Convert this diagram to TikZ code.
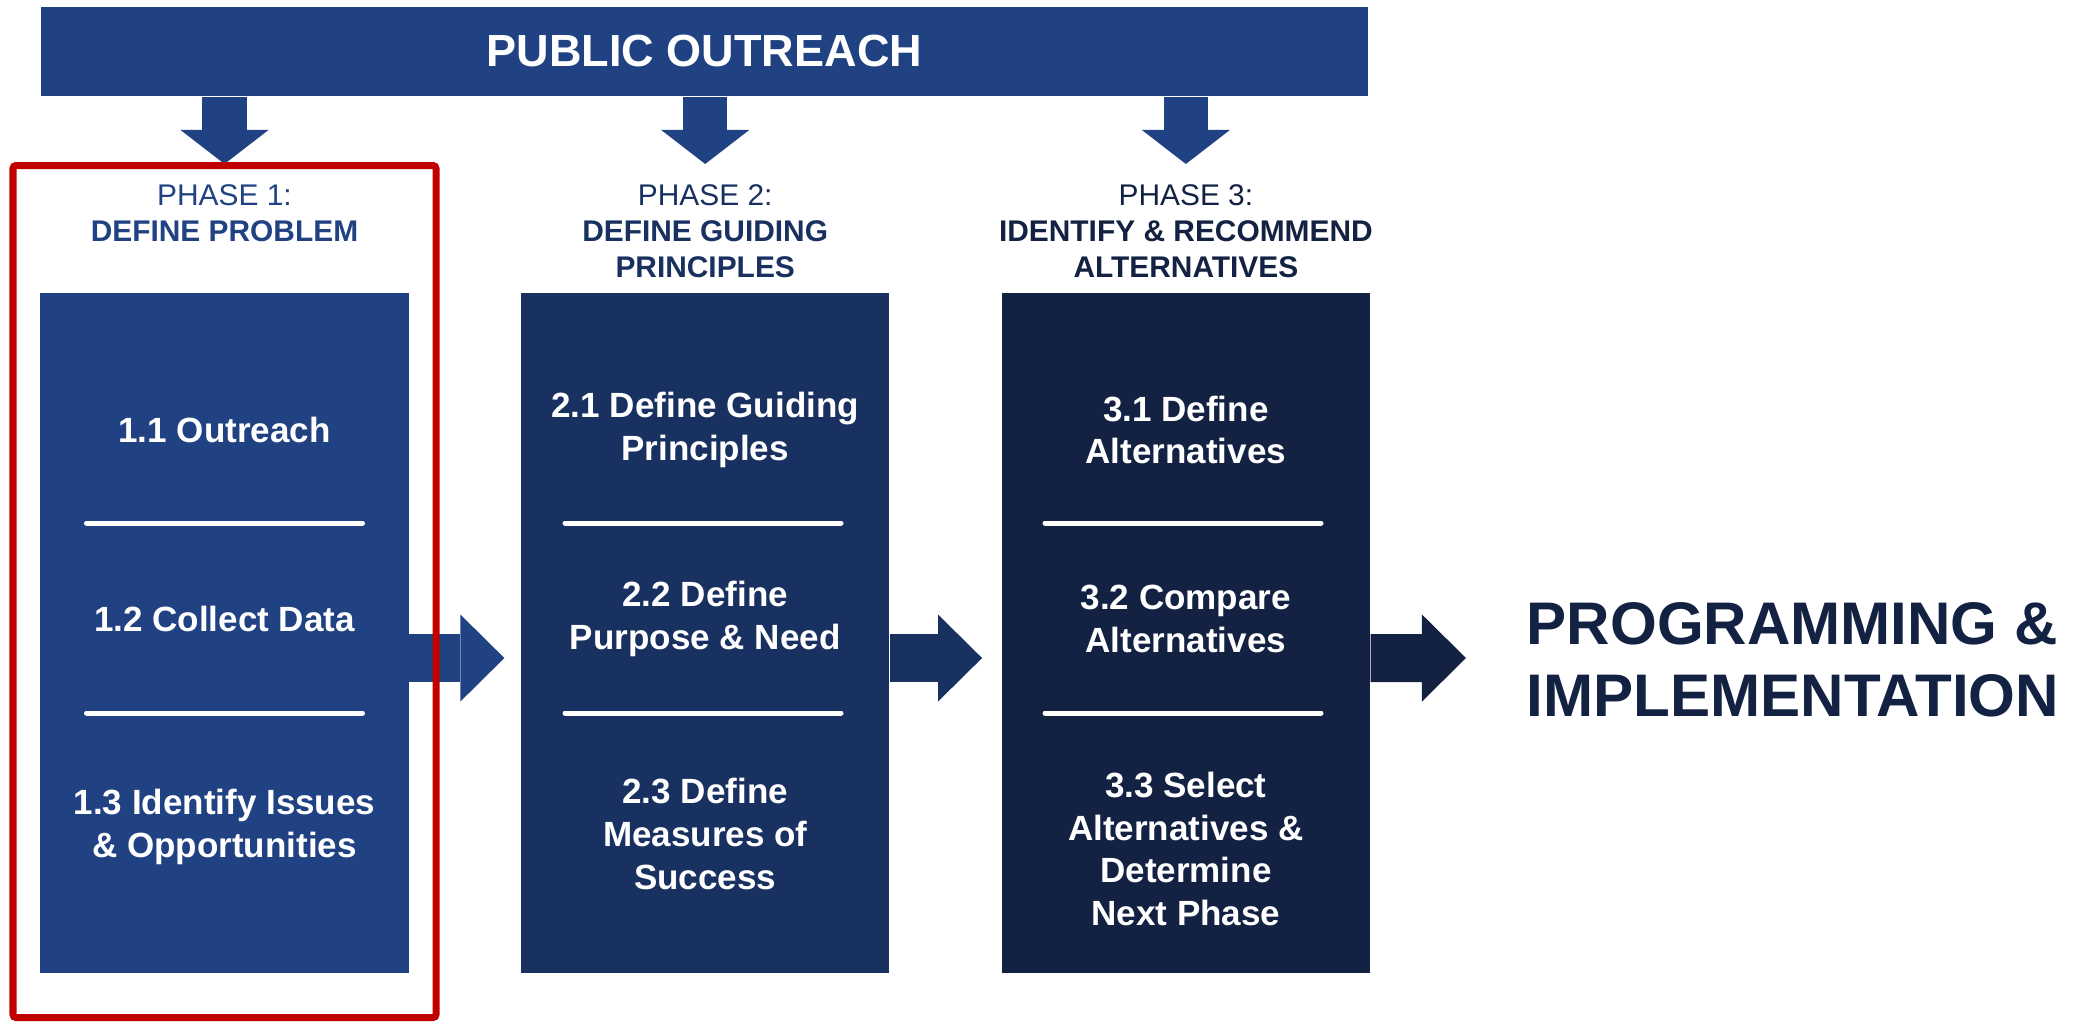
\documentclass[tikz,border=0pt]{standalone}
\usepackage{fontspec}
\setmainfont{Liberation Sans}
\usetikzlibrary{arrows.meta, positioning}
\definecolor{my_blue}{RGB}{33, 66, 130}
\definecolor{my_navy}{RGB}{25, 49, 96}
\definecolor{my_darknavy}{RGB}{19, 34, 66}
\definecolor{my_red}{RGB}{192, 0, 0}
\tikzset {
  banner/.style = {fill=my_blue, text=white, font=\fontsize{12.8}{15}\selectfont\bfseries, minimum width=13.27cm, minimum height=0.89cm, inner sep=0},
  phasebox/.style = {rectangle, minimum width=3.68cm, minimum height=6.8cm, inner sep=0},
  phasehead/.style = {anchor=north, inner sep=0, align=center, font=\fontsize{8.5}{10.2}\selectfont},
  steptext/.style = {text=white, align=center, inner sep=0, font=\fontsize{9.96}{12.1}\selectfont\bfseries},
  sepline/.style = {white, line width=0.05cm, line cap=round},
  downarrow/.style = {line width=0.44cm, -{Triangle[width=0.88cm, length=0.34cm, line width=0pt]}},
  fatarrow/.style = {line width=0.48cm, -{Triangle[width=0.87cm, length=0.44cm, line width=0pt]}},
  highlight/.style = {draw=my_red, line width=0.07cm, rounded corners=0.03cm},
  impl/.style = {anchor=west, inner sep=0, align=left, text=my_darknavy, font=\fontsize{17.1}{20.4}\selectfont\bfseries}
}

\begin{document}
\begin{tikzpicture}[x=0.01cm, y=-0.01cm]
    \useasboundingbox (0,0) rectangle (2086,1021);

    % phase boxes
    \node[phasebox, fill=my_blue] (box1) at (224.5,633) {};
    \node[phasebox, fill=my_navy, right=1.11cm of box1] (box2) {};
    \node[phasebox, fill=my_darknavy, right=1.11cm of box2] (box3) {};

    \node[impl] (impl) at (1526,660) {PROGRAMMING \&\\IMPLEMENTATION};

    \draw[fatarrow, my_blue] ([yshift=-0.25cm]box1.east) -- ([xshift=-0.16cm, yshift=-0.25cm]box2.west);
    \draw[fatarrow, my_navy] ([yshift=-0.25cm]box2.east) -- ([xshift=-0.19cm, yshift=-0.25cm]box3.west);
    \draw[fatarrow, my_darknavy] ([yshift=-0.25cm]box3.east) -- ([xshift=-0.6cm, yshift=0.02cm]impl.west);

    % steps
    \node[steptext] (s11) at (box1.center |- 0,430) {1.1 Outreach};
    \node[steptext] (s12) at (box1.center |- 0,619) {1.2 Collect Data};
    \node[steptext] (s13) at (box1.center |- 0,827) {1.3 Identify Issues\\\& Opportunities};
    \node[steptext] (s21) at (box2.center |- 0,430) {2.1 Define Guiding\\Principles};
    \node[steptext] (s22) at (box2.center |- 0,619) {2.2 Define\\Purpose \& Need};
    \node[steptext] (s23) at (box2.center |- 0,834) {2.3 Define\\Measures of\\Success};
    \node[steptext] (s31) at (box3.center |- 0,430) {3.1 Define\\Alternatives};
    \node[steptext] (s32) at (box3.center |- 0,619) {3.2 Compare\\Alternatives};
    \node[steptext] (s33) at (box3.center |- 0,849) {3.3 Select\\Alternatives \&\\Determine\\Next Phase};

    \draw[sepline] (86.5,523) -- (362.5,523);
    \draw[sepline] (86.5,713) -- (362.5,713);
    \draw[sepline] (565,523) -- (841,523);
    \draw[sepline] (565,713) -- (841,713);
    \draw[sepline] (1045,523) -- (1321,523);
    \draw[sepline] (1045,713) -- (1321,713);

    % headings
    \node[phasehead, text=my_blue] (head1) at (box1.north |- 0,184) {PHASE 1:\\\textbf{DEFINE PROBLEM}};
    \node[phasehead, text=my_navy] (head2) at (box2.north |- 0,184) {PHASE 2:\\\textbf{DEFINE GUIDING}\\\textbf{PRINCIPLES}};
    \node[phasehead, text=my_darknavy] (head3) at (box3.north |- 0,184) {PHASE 3:\\\textbf{IDENTIFY \& RECOMMEND}\\\textbf{ALTERNATIVES}};

    \node[banner] (outreach) at (704.5,51.5) {PUBLIC OUTREACH};

    \draw[downarrow, my_blue] (outreach.south -| head1.north) -- ([yshift=0.2cm]head1.north);
    \draw[downarrow, my_blue] (outreach.south -| head2.north) -- ([yshift=0.2cm]head2.north);
    \draw[downarrow, my_blue] (outreach.south -| head3.north) -- ([yshift=0.2cm]head3.north);

    \draw[highlight] (13,165.5) rectangle (436,1017.5);

\end{tikzpicture}
\end{document}
